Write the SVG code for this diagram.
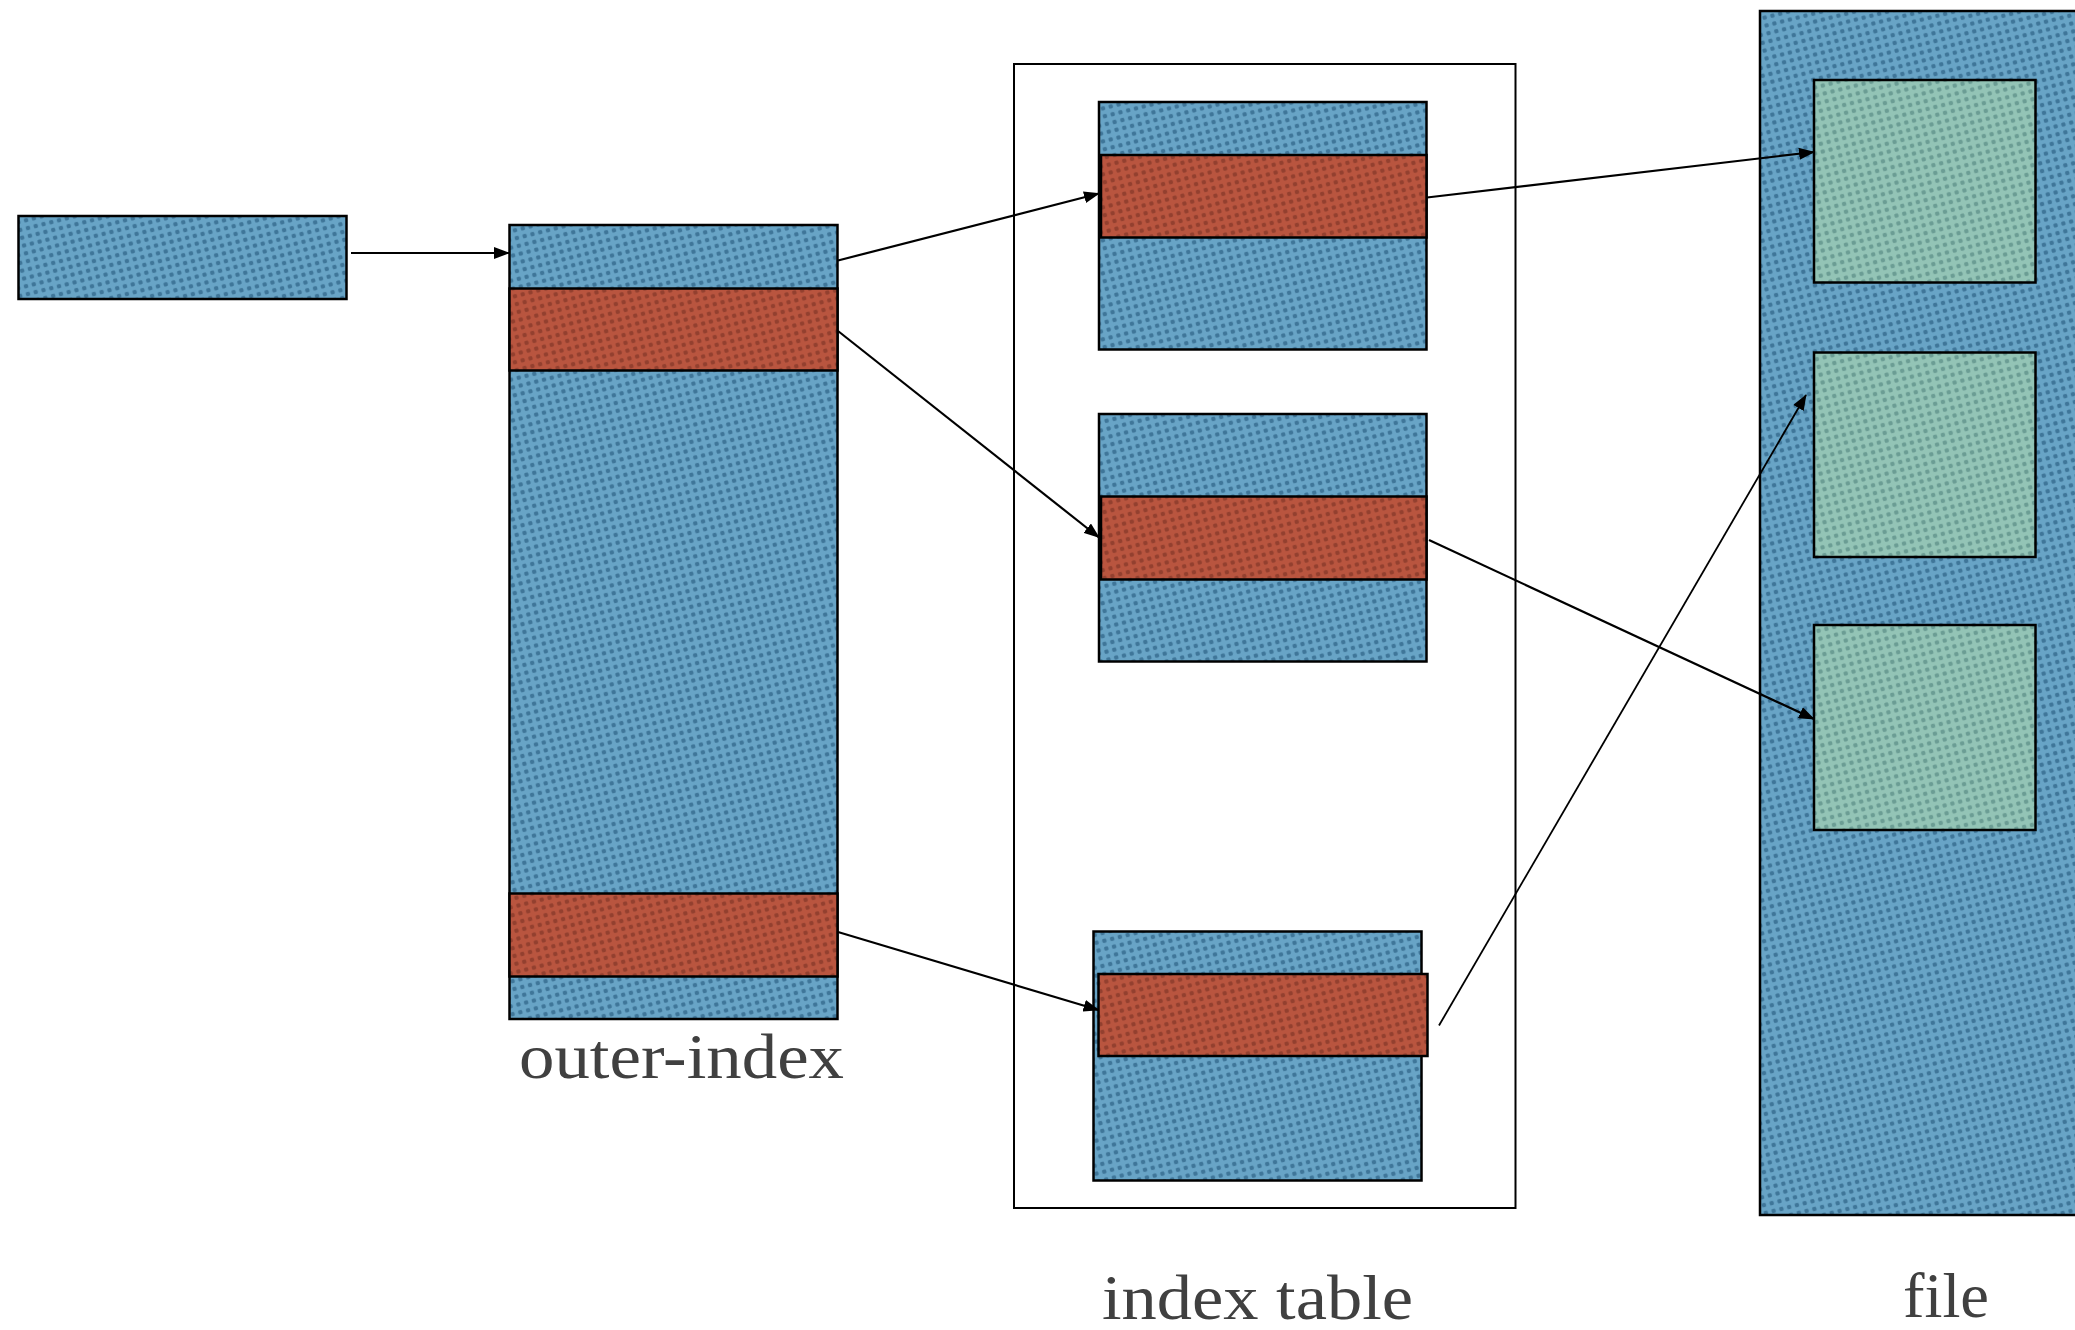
<svg xmlns="http://www.w3.org/2000/svg" width="2075" height="1330" viewBox="0 0 2075 1330">
  <defs>
    <pattern id="pBlue" width="8" height="8" patternUnits="userSpaceOnUse" patternTransform="rotate(-14)">
      <rect width="8" height="8" fill="#68a4c6"/>
      <circle cx="4" cy="4" r="2.3" fill="#3f7699"/>
    </pattern>
    <pattern id="pRed" width="8" height="8" patternUnits="userSpaceOnUse" patternTransform="rotate(-14)">
      <rect width="8" height="8" fill="#b9553f"/>
      <circle cx="4" cy="4" r="2.3" fill="#93402f"/>
    </pattern>
    <pattern id="pGreen" width="8" height="8" patternUnits="userSpaceOnUse" patternTransform="rotate(-14)">
      <rect width="8" height="8" fill="#93c4b6"/>
      <circle cx="4" cy="4" r="2.3" fill="#6b9d94"/>
    </pattern>
    <marker id="arrow" markerWidth="16" markerHeight="12" refX="15" refY="6" orient="auto" markerUnits="userSpaceOnUse">
      <path d="M0,0 L16,6 L0,12 z" fill="#000"/>
    </marker>
  </defs>
  <style>
    .blue { fill: url(#pBlue); stroke: #000; stroke-width: 2.5; }
    .red { fill: url(#pRed); stroke: #000; stroke-width: 2.5; }
    .green { fill: url(#pGreen); stroke: #000; stroke-width: 2.5; }
    .frame { fill: none; stroke: #000; stroke-width: 2; }
    .conn { fill: none; stroke: #000; stroke-width: 2.2; marker-end: url(#arrow); }
    .label { font-family: "Liberation Serif", "DejaVu Serif", serif; font-size: 64px; fill: #404040; }
  </style>

  <g id="pointer">
    <rect class="blue" x="18.5" y="216" width="328" height="83"/>
  </g>

  <g id="outer-index">
    <rect class="blue" x="509.5" y="225" width="328" height="794"/>
    <rect class="red" x="509.5" y="288.5" width="328" height="82"/>
    <rect class="red" x="509.5" y="893.5" width="328" height="83"/>
    <text class="label" x="519" y="1078" textLength="325" lengthAdjust="spacingAndGlyphs">outer-index</text>
  </g>

  <g id="index-table">
    <rect class="frame" x="1014" y="64" width="501.5" height="1144"/>
    <text class="label" x="1102" y="1319" textLength="311" lengthAdjust="spacingAndGlyphs">index table</text>
  </g>

  <g id="index-block-1">
    <rect class="blue" x="1099" y="102" width="327.5" height="247.5"/>
    <rect class="red" x="1101" y="155" width="325.5" height="82.5"/>
  </g>

  <g id="index-block-2">
    <rect class="blue" x="1099" y="414" width="327.5" height="247.5"/>
    <rect class="red" x="1101" y="496.5" width="325.5" height="83"/>
  </g>

  <g id="index-block-3">
    <rect class="blue" x="1093.5" y="931.5" width="328" height="249"/>
    <rect class="red" x="1098.5" y="974" width="329" height="82"/>
  </g>

  <g id="file">
    <rect class="blue" x="1760" y="11" width="330" height="1204"/>
    <rect class="green" x="1814" y="80" width="221.5" height="202.5"/>
    <rect class="green" x="1814" y="352.5" width="221.5" height="204.5"/>
    <rect class="green" x="1814" y="625" width="221.5" height="205"/>
    <text class="label" x="1903" y="1317" textLength="86" lengthAdjust="spacingAndGlyphs">file</text>
  </g>

  <g id="connectors">
    <line class="conn" x1="351" y1="253" x2="509" y2="253"/>
    <line class="conn" x1="838" y1="260.5" x2="1099" y2="193.5"/>
    <line class="conn" x1="838" y1="331" x2="1099" y2="537.5"/>
    <line class="conn" x1="838" y1="932" x2="1098.5" y2="1010"/>
    <line class="conn" x1="1427" y1="197.5" x2="1814" y2="152"/>
    <line class="conn" x1="1429" y1="540" x2="1814" y2="719"/>
    <line class="conn" x1="1439" y1="1025.5" x2="1806" y2="395" style="stroke-width:1.8"/>
  </g>
</svg>
